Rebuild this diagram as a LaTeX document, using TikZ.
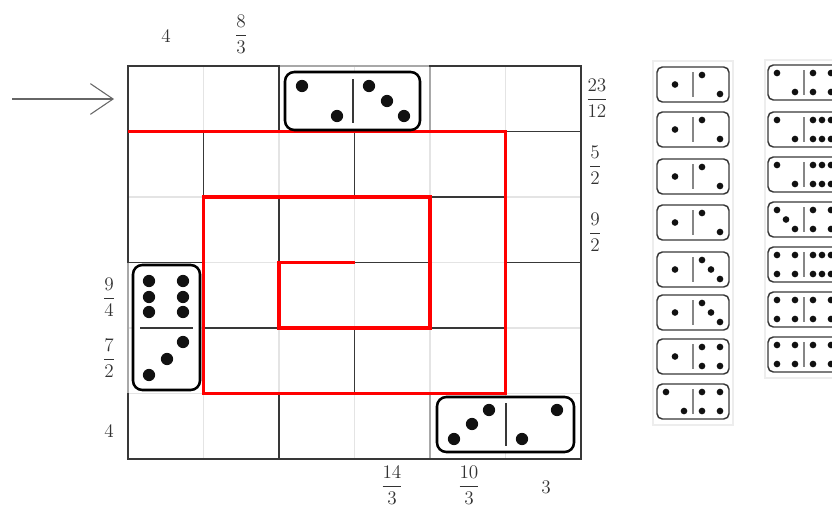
\documentclass[tikz,border=0pt]{standalone}
\usepackage{amsmath}
\usetikzlibrary{arrows.meta}
\definecolor{gridlight}{HTML}{E4E4E4}
\definecolor{gridmid}{HTML}{A8A8A8}
\definecolor{griddark}{HTML}{383838}
\definecolor{labc}{HTML}{333333}
\definecolor{pipc}{HTML}{111111}
\definecolor{panelc}{HTML}{EDEDED}
\newcommand{\ppone}[2]{\fill[pipc] (#1+18,#2+17.5) circle (2.5pt);}
\newcommand{\pptwo}[2]{\fill[pipc] (#1+9,#2+8) circle (2.5pt); \fill[pipc] (#1+27,#2+27) circle (2.5pt);}
\newcommand{\ppthree}[2]{\pptwo{#1}{#2}\ppone{#1}{#2}}
\newcommand{\ppfour}[2]{\pptwo{#1}{#2}\fill[pipc] (#1+27,#2+8) circle (2.5pt); \fill[pipc] (#1+9,#2+27) circle (2.5pt);}
\newcommand{\ppsix}[2]{\ppfour{#1}{#2}\fill[pipc] (#1+18,#2+8) circle (2.5pt); \fill[pipc] (#1+18,#2+27) circle (2.5pt);}
\newcommand{\sdom}[2]{\draw[smallbox] (#1,#2) rectangle ++(72,35); \draw[smalldiv] (#1+36,#2+5) -- ++(0,25);}
\newcommand{\bpip}[2]{\fill[pipc] (#1,#2) circle (4.6pt);}
\begin{document}
\begin{tikzpicture}[x=0.75pt,y=-0.75pt,
  lightline/.style={draw=gridlight,line width=0.8pt},
  midline/.style={draw=gridmid,line width=0.9pt},
  darkline/.style={draw=griddark,line width=1.2pt,line cap=rect},
  redpath/.style={draw=red,line width=2.8pt,line join=miter},
  bigbox/.style={draw=black,line width=1.9pt,rounded corners=7pt,fill=white},
  bigdiv/.style={draw=griddark,line width=1.4pt},
  smallbox/.style={draw=griddark,line width=1.1pt,rounded corners=4pt,fill=white},
  smalldiv/.style={draw=gridmid!80!black,line width=0.9pt},
  lab/.style={text=labc,font=\fontsize{14pt}{17pt}\selectfont,inner sep=0pt},
  arrowline/.style={draw=gray!80!black,line width=0.8pt,-{Straight Barb[length=17pt,width=23pt]}}]
\path[use as bounding box] (0,0) rectangle (832,508);
\fill[white] (0,0) rectangle (832,508);
% light grid
\foreach \x in {128,203.5,279,354.5,430,505.5,581} \draw[lightline] (\x,66) -- (\x,459);
\foreach \y in {66,131.5,197,262.5,328,393.5,459} \draw[lightline] (128,\y) -- (581,\y);
% medium segments
\draw[midline] (279,66) -- (430,66);
\draw[midline] (430,66) -- (430,131.5);
\draw[midline] (128,262.5) -- (128,393.5);
\draw[midline] (430,459) -- (581,459);
\draw[midline] (430,393.5) -- (430,459);
% dark border
\draw[darkline] (279,66) -- (128,66) -- (128,262.5);
\draw[darkline] (430,66) -- (581,66) -- (581,459) -- (430,459);
\draw[darkline] (128,393.5) -- (128,459) -- (430,459);
% dark interior segments
\draw[darkline] (279,66) -- (279,131.5);
\draw[darkline] (505.5,131.5) -- (581,131.5);
\draw[darkline] (203.5,131.5) -- (203.5,197);
\draw[darkline] (354.5,131.5) -- (354.5,197);
\draw[darkline] (430,197) -- (505.5,197);
\draw[darkline] (279,197) -- (279,262.5);
\draw[darkline] (128,262.5) -- (203.5,262.5);
\draw[darkline] (354.5,262.5) -- (430,262.5);
\draw[darkline] (505.5,262.5) -- (581,262.5);
\draw[darkline] (203.5,328) -- (279,328);
\draw[darkline] (430,328) -- (505.5,328);
\draw[darkline] (354.5,328) -- (354.5,393.5);
\draw[darkline] (279,393.5) -- (279,459);
% red spiral
\draw[redpath] (128,131.5) -- (505.5,131.5) -- (505.5,393.5) -- (203.5,393.5) -- (203.5,197) -- (430,197) -- (430,328) -- (279,328) -- (279,262.5) -- (354.5,262.5);
% big dominoes
\draw[bigbox] (285,72) rectangle (420,130);
\draw[bigdiv] (353,79) -- (353,123);
\bpip{302}{86}\bpip{337}{116}
\bpip{369}{86}\bpip{387}{101}\bpip{404}{116}
\draw[bigbox] (133,265) rectangle (200,390);
\draw[bigdiv] (140,328) -- (193,328);
\bpip{149}{281}\bpip{149}{297}\bpip{149}{312}
\bpip{183}{281}\bpip{183}{297}\bpip{183}{312}
\bpip{149}{375}\bpip{167}{359}\bpip{183}{342}
\draw[bigbox] (437,397) rectangle (574,452);
\draw[bigdiv] (506,403) -- (506,446);
\bpip{454}{439}\bpip{472}{424}\bpip{489}{410}
\bpip{522}{439}\bpip{557}{410}
% labels
\node[lab] (t1) at (166,36) {$4$};
\node[lab] (t2) at (241,34) {$\dfrac{8}{3}$};
\node[lab] (r1) at (597,98) {$\dfrac{23}{12}$};
\node[lab] (r2) at (595,165) {$\dfrac{5}{2}$};
\node[lab] (r3) at (595,232) {$\dfrac{9}{2}$};
\node[lab] (l1) at (109,297) {$\dfrac{9}{4}$};
\node[lab] (l2) at (109,358) {$\dfrac{7}{2}$};
\node[lab] (l3) at (109,431) {$4$};
\node[lab] (b1) at (392,485) {$\dfrac{14}{3}$};
\node[lab] (b2) at (469,485) {$\dfrac{10}{3}$};
\node[lab] (b3) at (546,487) {$3$};
% arrow
\coordinate (arrtail) at (12,99);
\coordinate (arrhead) at (114,99);
\draw[arrowline] (arrtail) -- (arrhead);
% panels
\draw[panelc,line width=0.8pt] (653,61) rectangle (733,425);
\draw[panelc,line width=0.8pt] (765,60) rectangle (850,378);
% column 1 small dominoes
\foreach \t in {67,112,159,205} {\sdom{657}{\t}\ppone{657}{\t}\pptwo{693}{\t}}
\foreach \t in {252,295} {\sdom{657}{\t}\ppone{657}{\t}\ppthree{693}{\t}}
\sdom{657}{339}\ppone{657}{339}\ppfour{693}{339}
\sdom{657}{384}\pptwo{657}{384}\ppfour{693}{384}
% column 2 small dominoes
\begin{scope}
\clip (0,0) rectangle (832,508);
\sdom{768}{65}\pptwo{768}{65}\ppfour{804}{65}
\sdom{768}{112}\pptwo{768}{112}\ppsix{804}{112}
\sdom{768}{157}\pptwo{768}{157}\ppsix{804}{157}
\sdom{768}{202}\ppthree{768}{202}\ppfour{804}{202}
\sdom{768}{247}\ppfour{768}{247}\ppsix{804}{247}
\sdom{768}{292}\ppfour{768}{292}\ppfour{804}{292}
\sdom{768}{337}\ppfour{768}{337}\ppfour{804}{337}
\end{scope}
\end{tikzpicture}
\end{document}
